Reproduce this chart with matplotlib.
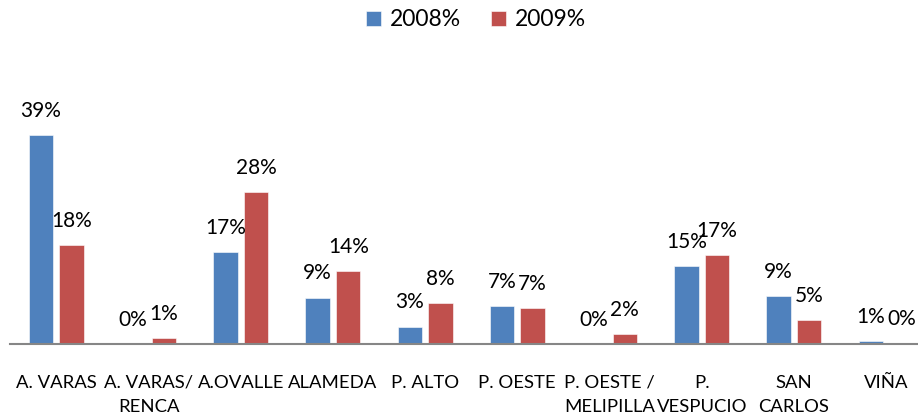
import numpy as np
import matplotlib
matplotlib.use("Agg")
import matplotlib.pyplot as plt

categories = ["A. VARAS", "A. VARAS/\nRENCA", "A.OVALLE", "ALAMEDA", "P. ALTO",
              "P. OESTE", "P. OESTE /\nMELIPILLA", "P.\nVESPUCIO", "SAN\nCARLOS", "VIÑA"]
pct_2008 = [39.0, 0.0, 17.1, 8.7, 3.3, 7.1, 0.0, 14.6, 9.0, 0.6]
pct_2009 = [18.4, 1.2, 28.4, 13.6, 7.6, 6.7, 1.9, 16.6, 4.6, 0.2]

blue = "#4F81BD"
red = "#C0504D"

plt.rcParams['font.family'] = ['Lato', 'DejaVu Sans']

fig = plt.figure(figsize=(9.18, 4.18), dpi=100)
# axes run a little past the right edge, as in the original
ax = fig.add_axes([10.2 / 918, 73.7 / 418, 922 / 918, 242 / 418])

x = np.arange(len(categories))
w = 0.266
off = 0.166
b1 = ax.bar(x - off, pct_2008, w, color=blue, edgecolor="white", linewidth=0.4, label="2008%")
b2 = ax.bar(x + off, pct_2009, w, color=red, edgecolor="white", linewidth=0.4, label="2009%")

for bars, vals in ((b1, pct_2008), (b2, pct_2009)):
    for rect, v in zip(bars, vals):
        ax.annotate(f"{v:.0f}%", (rect.get_x() + rect.get_width() / 2, v),
                    xytext=(0, 13), textcoords="offset points",
                    ha="center", va="baseline", fontsize=15)

ax.set_xlim(-0.5, len(categories) - 0.5)
ax.set_ylim(0, 45)
ax.set_yticks([])
ax.set_xticks(x)
ax.set_xticklabels(categories, fontsize=13.3, linespacing=1.6)
ax.tick_params(axis="x", length=0, pad=22)
for s in ("left", "right", "top"):
    ax.spines[s].set_visible(False)
ax.spines["bottom"].set_color("#868686")
ax.spines["bottom"].set_linewidth(1.5)

fig.legend(handles=[b1, b2], loc="center", bbox_to_anchor=(476 / 918, 1 - 20 / 418),
           ncol=2, frameon=False, fontsize=16.5, handlelength=0.65, handleheight=0.65,
           handletextpad=0.4, columnspacing=1.3)

fig.savefig("out.png", dpi=100)
